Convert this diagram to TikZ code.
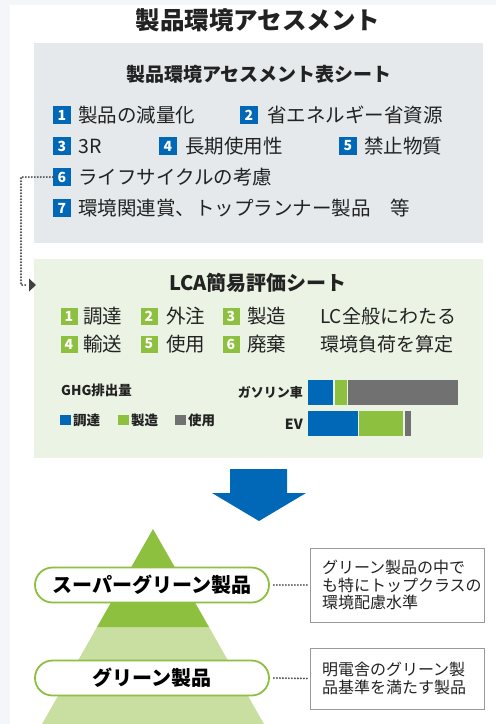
\documentclass[tikz,border=0pt]{standalone}
\usepackage{fontspec}
\usetikzlibrary{arrows.meta}
\newfontfamily\jp{Noto Sans CJK JP}
\definecolor{bgc}{HTML}{F4F6F9}
\definecolor{myblue}{HTML}{0068B7}
\definecolor{mygreen}{HTML}{8DC03F}
\definecolor{ltgreen}{HTML}{C9DFA2}
\definecolor{graybox}{HTML}{E5E9EC}
\definecolor{greenbox}{HTML}{EBF3E4}
\definecolor{bargray}{HTML}{717171}
\definecolor{txt}{HTML}{222222}
\tikzset{
  fs/.style={font=\jp\fontsize{#1}{#1}\selectfont},
  fsb/.style={font=\jp\bfseries\fontsize{#1}{#1}\selectfont},
  bluebadge/.style={fill=myblue, text=white, fsb=14, minimum width=18, minimum height=18, inner sep=0},
  greenbadge/.style={fill=mygreen, text=white, fsb=14, minimum width=17, minimum height=17, inner sep=0},
  item/.style={anchor=west, inner sep=0, text=txt, fs=19.5},
  gitem/.style={anchor=west, inner sep=0, text=txt, fs=19.5},
  dots/.style={line width=2.1pt, dash pattern=on 0pt off 3pt, line cap=round, draw=black!70},
  pill/.style={draw=mygreen, line width=1.8pt, fill=white, rounded corners=17.5, minimum width=234, minimum height=35, inner sep=0, fsb=20, text=black},
  notebox/.style={draw=black!40, line width=0.8pt, fill=white, minimum width=174, inner sep=0, fs=16, text=txt, align=left},
}
\begin{document}
\begin{tikzpicture}[x=1pt,y=-1pt]
\useasboundingbox (0,0) rectangle (496,724);
\fill[bgc] (0,0) rectangle (496,724);
\fill[white] (10,5) rectangle (496,724);

% title
\node[fsb=24.5, text=txt, inner sep=0] (title) at (258,20) {製品環境アセスメント};

% gray box
\fill[graybox] (34,43) rectangle (483,243);
\node[fsb=19, text=txt, inner sep=0] (sub1) at (259,74) {製品環境アセスメント表シート};

\node[bluebadge] (b1) at (62,115) {1}; \node[item] (t1) at (78,115) {製品の減量化};
\node[bluebadge] (b2) at (249,115) {2}; \node[item] (t2) at (267,115) {省エネルギー省資源};
\node[bluebadge] (b3) at (62,146) {3}; \node[item] (t3) at (78,146) {3R};
\node[bluebadge] (b4) at (168,146) {4}; \node[item] (t4) at (185,146) {長期使用性};
\node[bluebadge] (b5) at (348,146) {5}; \node[item] (t5) at (364,146) {禁止物質};
\node[bluebadge] (b6) at (62,177) {6}; \node[item] (t6) at (78,177) {ライフサイクルの考慮};
\node[bluebadge] (b7) at (62,208) {7}; \node[item] (t7) at (78,208) {環境関連賞、トップランナー製品　等};

% green box
\fill[greenbox] (34,259) rectangle (483,458);
\node[fsb=20, text=txt, inner sep=0] (sub2) at (258,283) {LCA簡易評価シート};

\node[greenbadge] (g1) at (69,316) {1}; \node[gitem] (u1) at (83,316) {調達};
\node[greenbadge] (g2) at (149,316) {2}; \node[gitem] (u2) at (166,316) {外注};
\node[greenbadge] (g3) at (231,316) {3}; \node[gitem] (u3) at (247,316) {製造};
\node[greenbadge] (g4) at (69,344) {4}; \node[gitem] (u4) at (83,344) {輸送};
\node[greenbadge] (g5) at (149,344) {5}; \node[gitem] (u5) at (166,344) {使用};
\node[greenbadge] (g6) at (231,344) {6}; \node[gitem] (u6) at (247,344) {廃棄};
\node[gitem, fs=19] (lc1) at (320,316) {LC全般にわたる};
\node[gitem, fs=19] (lc2) at (320,344) {環境負荷を算定};

\node[anchor=west, inner sep=0, fsb=13.5, text=txt] (ghg) at (61,390) {GHG排出量};
\fill[myblue] (60,415) rectangle (71,425);
\node[anchor=west, inner sep=0, fsb=13.5, text=txt] (l1) at (73,420) {調達};
\fill[mygreen] (118,415) rectangle (129,425);
\node[anchor=west, inner sep=0, fsb=13.5, text=txt] (l2) at (131,420) {製造};
\fill[bargray] (175,415) rectangle (186,425);
\node[anchor=west, inner sep=0, fsb=13.5, text=txt] (l3) at (188,420) {使用};

\node[anchor=east, inner sep=0, fsb=13, text=txt] (gas) at (303,393) {ガソリン車};
\node[anchor=east, inner sep=0, fsb=14, text=txt] (ev) at (303,424) {EV};
\fill[myblue] (308,380) rectangle (333,405);
\fill[mygreen] (334.5,380) rectangle (346.5,405);
\fill[bargray] (348,380) rectangle (458,405);
\fill[myblue] (308,411) rectangle (357.5,436);
\fill[mygreen] (359,411) rectangle (403,436);
\fill[bargray] (404.5,411) rectangle (411,436);

% dotted connector with arrow
\coordinate (c1) at (21,177);
\coordinate (c2) at (21,285);
\coordinate (arr) at (36,285);
\draw[dots] (b6.west) -- (c1) -- (c2) -- (26,285);
\fill[black!75] (29,278.5) -- (36,285) -- (29,291.5) -- cycle;

% big arrow
\fill[myblue] (230,469) -- (287,469) -- (287,493) -- (306,493) -- (259,521) -- (212,493) -- (230,493) -- cycle;

% pyramid
\begin{scope}
\clip (0,0) rectangle (496,724);
\fill[ltgreen] (97,627) -- (209,627) -- (273,740) -- (33,740) -- cycle;
\fill[mygreen] (153,529) -- (209,627) -- (97,627) -- cycle;
\end{scope}

\node[pill] (sg) at (152,585) {スーパーグリーン製品};
\node[pill] (gp) at (152,678) {グリーン製品};

\node[notebox, minimum height=74, text width=150] (n1) at (397,585) {グリーン製品の中で\\[1.5pt]も特にトップクラスの\\[1.5pt]環境配慮水準};
\node[notebox, minimum height=61, text width=150] (n2) at (397,678.5) {明電舎のグリーン製\\[2pt]品基準を満たす製品};

\draw[dots] ([xshift=4pt]sg.east) -- ([xshift=-1pt]n1.west);
\draw[dots] ([xshift=4pt]gp.east) -- ([xshift=-1pt]n2.west);
\end{tikzpicture}
\end{document}
